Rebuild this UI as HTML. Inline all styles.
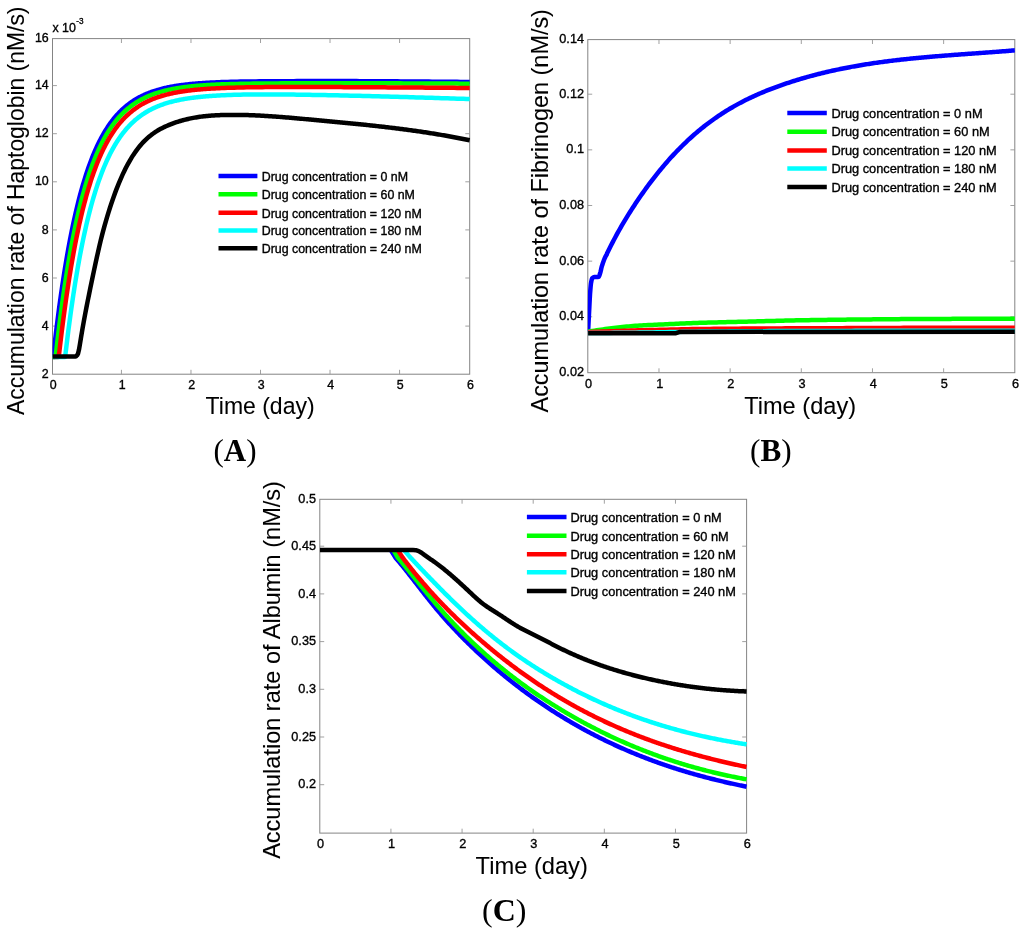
<!DOCTYPE html>
<html lang="en">
<head>
<meta charset="utf-8">
<title>Accumulation rate figure</title>
<style>html,body{margin:0;padding:0;background:#fff}svg{display:block;will-change:transform}</style>
</head>
<body>
<svg width="1024" height="934" viewBox="0 0 1024 934" role="img" aria-label="Accumulation rate plots">
<rect width="1024" height="934" fill="#fff"/>
<rect x="52.5" y="38.6" width="417.2" height="335.6" fill="#fff" stroke="#848484" stroke-width="1"/>
<path d="M121.43 374.2V369.8M121.43 38.6V43M190.97 374.2V369.8M190.97 38.6V43M260.5 374.2V369.8M260.5 38.6V43M330.03 374.2V369.8M330.03 38.6V43M399.57 374.2V369.8M399.57 38.6V43M52.5 326.1H56.9M469.7 326.1H465.3M52.5 278H56.9M469.7 278H465.3M52.5 229.9H56.9M469.7 229.9H465.3M52.5 181.8H56.9M469.7 181.8H465.3M52.5 133.7H56.9M469.7 133.7H465.3M52.5 85.6H56.9M469.7 85.6H465.3" stroke="#969696" stroke-width="0.9" fill="none"/>
<text x="53.2" y="389.1" font-family="'Liberation Sans', sans-serif" font-size="12.4" font-weight="normal" text-anchor="middle" fill="#000" stroke="#000" stroke-width="0.35">0</text>
<text x="122.13" y="389.1" font-family="'Liberation Sans', sans-serif" font-size="12.4" font-weight="normal" text-anchor="middle" fill="#000" stroke="#000" stroke-width="0.35">1</text>
<text x="191.67" y="389.1" font-family="'Liberation Sans', sans-serif" font-size="12.4" font-weight="normal" text-anchor="middle" fill="#000" stroke="#000" stroke-width="0.35">2</text>
<text x="261.2" y="389.1" font-family="'Liberation Sans', sans-serif" font-size="12.4" font-weight="normal" text-anchor="middle" fill="#000" stroke="#000" stroke-width="0.35">3</text>
<text x="330.73" y="389.1" font-family="'Liberation Sans', sans-serif" font-size="12.4" font-weight="normal" text-anchor="middle" fill="#000" stroke="#000" stroke-width="0.35">4</text>
<text x="400.27" y="389.1" font-family="'Liberation Sans', sans-serif" font-size="12.4" font-weight="normal" text-anchor="middle" fill="#000" stroke="#000" stroke-width="0.35">5</text>
<text x="470.4" y="389.1" font-family="'Liberation Sans', sans-serif" font-size="12.4" font-weight="normal" text-anchor="middle" fill="#000" stroke="#000" stroke-width="0.35">6</text>
<text x="48.7" y="377.8" font-family="'Liberation Sans', sans-serif" font-size="12.4" font-weight="normal" text-anchor="end" fill="#000" stroke="#000" stroke-width="0.35">2</text>
<text x="48.7" y="329.7" font-family="'Liberation Sans', sans-serif" font-size="12.4" font-weight="normal" text-anchor="end" fill="#000" stroke="#000" stroke-width="0.35">4</text>
<text x="48.7" y="281.6" font-family="'Liberation Sans', sans-serif" font-size="12.4" font-weight="normal" text-anchor="end" fill="#000" stroke="#000" stroke-width="0.35">6</text>
<text x="48.7" y="233.5" font-family="'Liberation Sans', sans-serif" font-size="12.4" font-weight="normal" text-anchor="end" fill="#000" stroke="#000" stroke-width="0.35">8</text>
<text x="48.7" y="185.4" font-family="'Liberation Sans', sans-serif" font-size="12.4" font-weight="normal" text-anchor="end" fill="#000" stroke="#000" stroke-width="0.35">10</text>
<text x="48.7" y="137.3" font-family="'Liberation Sans', sans-serif" font-size="12.4" font-weight="normal" text-anchor="end" fill="#000" stroke="#000" stroke-width="0.35">12</text>
<text x="48.7" y="89.2" font-family="'Liberation Sans', sans-serif" font-size="12.4" font-weight="normal" text-anchor="end" fill="#000" stroke="#000" stroke-width="0.35">14</text>
<text x="48.7" y="42.2" font-family="'Liberation Sans', sans-serif" font-size="12.4" font-weight="normal" text-anchor="end" fill="#000" stroke="#000" stroke-width="0.35">16</text>
<text x="52.4" y="31.9" font-family="'Liberation Sans', sans-serif" font-size="12.4" font-weight="normal" text-anchor="start" fill="#000" stroke="#000" stroke-width="0.35">x 10</text>
<text x="76.3" y="23.6" font-family="'Liberation Sans', sans-serif" font-size="8.2" font-weight="normal" text-anchor="start" fill="#000" stroke="#000" stroke-width="0.35">-3</text>
<clipPath id="ca"><rect x="52.5" y="35.6" width="417.7" height="341.6"/></clipPath>
<g clip-path="url(#ca)">
<polyline fill="none" stroke="#0000ff" stroke-width="4.5" stroke-linejoin="round" stroke-linecap="butt" points="52.5,356.88 53.34,355.59 54.18,348.12 55.02,340.86 55.85,333.8 56.69,326.93 57.53,320.25 58.37,313.74 59.21,307.42 60.05,301.26 60.89,295.28 61.72,289.45 62.56,283.79 63.4,278.27 64.24,272.91 65.08,267.7 65.92,262.62 66.76,257.69 67.59,252.88 68.43,248.21 69.27,243.67 70.11,239.25 70.95,234.95 71.79,230.76 72.63,226.69 73.46,222.73 74.3,218.88 75.14,215.13 75.98,211.49 76.82,207.94 77.66,204.49 78.5,201.13 79.33,197.87 80.17,194.69 81.01,191.6 81.85,188.6 82.69,185.67 83.53,182.83 84.37,180.06 85.21,177.37 86.04,174.75 86.88,172.2 87.72,169.72 88.56,167.31 89.4,164.97 90.24,162.69 91.08,160.47 91.91,158.31 92.75,156.21 93.59,154.16 94.43,152.18 95.27,150.24 96.11,148.36 96.95,146.53 97.78,144.75 98.62,143.02 99.46,141.33 100.3,139.69 101.14,138.1 101.98,136.55 102.82,135.04 103.65,133.57 104.49,132.14 105.33,130.75 106.17,129.4 107.01,128.09 107.85,126.81 108.69,125.56 109.52,124.35 110.36,123.17 111.2,122.03 112.04,120.91 112.88,119.83 113.72,118.77 114.56,117.75 115.39,116.75 116.23,115.78 117.07,114.83 117.91,113.92 118.75,113.02 119.59,112.15 120.43,111.31 121.26,110.48 122.1,109.68 122.94,108.9 123.78,108.15 124.62,107.41 125.46,106.69 126.3,105.99 127.13,105.32 127.97,104.66 128.81,104.01 129.65,103.39 130.49,102.78 131.33,102.19 132.17,101.61 133,101.05 133.84,100.51 134.68,99.98 135.52,99.47 136.36,98.96 137.2,98.48 138.04,98 138.88,97.54 139.71,97.09 140.55,96.66 141.39,96.23 142.23,95.82 143.07,95.42 143.91,95.03 144.75,94.64 145.58,94.27 146.42,93.91 147.26,93.56 148.1,93.22 148.94,92.89 149.78,92.57 150.62,92.26 151.45,91.95 152.29,91.65 153.13,91.37 153.97,91.08 154.81,90.81 155.65,90.55 156.49,90.29 157.32,90.03 158.16,89.79 159,89.55 159.84,89.32 160.68,89.09 161.52,88.88 162.36,88.66 163.19,88.46 164.03,88.25 164.87,88.06 165.71,87.87 166.55,87.68 167.39,87.5 168.23,87.32 169.06,87.15 169.9,86.99 170.74,86.82 171.58,86.67 172.42,86.51 173.26,86.36 174.1,86.22 174.93,86.08 175.77,85.94 176.61,85.81 177.45,85.68 178.29,85.55 179.13,85.43 179.97,85.31 180.8,85.19 181.64,85.08 182.48,84.97 183.32,84.86 184.16,84.76 185,84.66 185.84,84.56 186.67,84.46 187.51,84.37 188.35,84.28 189.19,84.19 190.03,84.1 190.87,84.02 191.71,83.94 192.55,83.86 193.38,83.78 194.22,83.71 195.06,83.64 195.9,83.56 196.74,83.5 197.58,83.43 198.42,83.36 199.25,83.3 200.09,83.24 200.93,83.18 201.77,83.12 202.61,83.06 203.45,83.01 204.29,82.95 205.12,82.9 205.96,82.85 206.8,82.8 207.64,82.75 208.48,82.71 209.32,82.66 210.16,82.62 210.99,82.57 211.83,82.53 212.67,82.49 213.51,82.45 214.35,82.41 215.19,82.38 216.03,82.34 216.86,82.3 217.7,82.27 218.54,82.23 219.38,82.2 221.47,82.12 224.61,82.02 227.75,81.92 230.89,81.83 234.03,81.75 237.18,81.68 240.32,81.62 243.46,81.56 246.6,81.51 249.75,81.46 252.89,81.42 256.03,81.38 259.17,81.35 262.31,81.32 265.46,81.29 268.6,81.26 271.74,81.24 274.88,81.22 278.03,81.2 281.17,81.18 284.31,81.17 287.45,81.16 290.59,81.14 293.74,81.13 296.88,81.12 300.02,81.11 303.16,81.11 306.31,81.1 309.45,81.09 312.59,81.09 315.73,81.08 318.87,81.08 322.02,81.07 325.16,81.07 328.3,81.06 331.44,81.06 334.59,81.06 337.73,81.07 340.87,81.07 344.01,81.08 347.15,81.09 350.3,81.1 353.44,81.11 356.58,81.12 359.72,81.13 362.87,81.15 366.01,81.16 369.15,81.18 372.29,81.2 375.43,81.21 378.58,81.23 381.72,81.25 384.86,81.27 388,81.29 391.14,81.31 394.29,81.33 397.43,81.35 400.57,81.38 403.71,81.4 406.86,81.42 410,81.45 413.14,81.47 416.28,81.5 419.42,81.52 422.57,81.55 425.71,81.58 428.85,81.6 431.99,81.63 435.14,81.66 438.28,81.69 441.42,81.72 444.56,81.74 447.7,81.77 450.85,81.8 453.99,81.83 457.13,81.87 460.27,81.9 463.42,81.93 466.56,81.96 469.7,81.99"/>
<polyline fill="none" stroke="#00ff00" stroke-width="4.5" stroke-linejoin="round" stroke-linecap="butt" points="52.5,356.88 53.34,356.88 54.18,356.88 55.02,356.88 55.85,354.55 56.69,347.18 57.53,340 58.37,333.02 59.21,326.23 60.05,319.62 60.89,313.2 61.72,306.94 62.56,300.86 63.4,294.94 64.24,289.19 65.08,283.59 65.92,278.14 66.76,272.84 67.59,267.69 68.43,262.67 69.27,257.79 70.11,253.05 70.95,248.43 71.79,243.94 72.63,239.57 73.46,235.32 74.3,231.18 75.14,227.16 75.98,223.25 76.82,219.44 77.66,215.73 78.5,212.13 79.33,208.63 80.17,205.22 81.01,201.9 81.85,198.67 82.69,195.53 83.53,192.48 84.37,189.51 85.21,186.62 86.04,183.81 86.88,181.07 87.72,178.41 88.56,175.82 89.4,173.31 90.24,170.86 91.08,168.47 91.91,166.16 92.75,163.9 93.59,161.71 94.43,159.57 95.27,157.5 96.11,155.48 96.95,153.51 97.78,151.6 98.62,149.74 99.46,147.93 100.3,146.17 101.14,144.46 101.98,142.79 102.82,141.17 103.65,139.6 104.49,138.06 105.33,136.57 106.17,135.12 107.01,133.71 107.85,132.34 108.69,131 109.52,129.7 110.36,128.44 111.2,127.21 112.04,126.01 112.88,124.85 113.72,123.72 114.56,122.61 115.39,121.54 116.23,120.5 117.07,119.49 117.91,118.5 118.75,117.54 119.59,116.61 120.43,115.7 121.26,114.81 122.1,113.95 122.94,113.12 123.78,112.3 124.62,111.51 125.46,110.74 126.3,109.99 127.13,109.27 127.97,108.56 128.81,107.87 129.65,107.2 130.49,106.54 131.33,105.91 132.17,105.29 133,104.69 133.84,104.11 134.68,103.54 135.52,102.99 136.36,102.45 137.2,101.92 138.04,101.42 138.88,100.92 139.71,100.44 140.55,99.97 141.39,99.51 142.23,99.07 143.07,98.64 143.91,98.22 144.75,97.81 145.58,97.41 146.42,97.03 147.26,96.65 148.1,96.28 148.94,95.93 149.78,95.58 150.62,95.25 151.45,94.92 152.29,94.6 153.13,94.29 153.97,93.99 154.81,93.69 155.65,93.41 156.49,93.13 157.32,92.86 158.16,92.6 159,92.34 159.84,92.09 160.68,91.85 161.52,91.62 162.36,91.39 163.19,91.17 164.03,90.95 164.87,90.74 165.71,90.53 166.55,90.33 167.39,90.14 168.23,89.95 169.06,89.77 169.9,89.59 170.74,89.41 171.58,89.25 172.42,89.08 173.26,88.92 174.1,88.77 174.93,88.61 175.77,88.47 176.61,88.32 177.45,88.18 178.29,88.05 179.13,87.92 179.97,87.79 180.8,87.66 181.64,87.54 182.48,87.42 183.32,87.31 184.16,87.2 185,87.09 185.84,86.98 186.67,86.88 187.51,86.78 188.35,86.68 189.19,86.59 190.03,86.49 190.87,86.4 191.71,86.32 192.55,86.23 193.38,86.15 194.22,86.07 195.06,85.99 195.9,85.92 196.74,85.84 197.58,85.77 198.42,85.7 199.25,85.63 200.09,85.57 200.93,85.5 201.77,85.44 202.61,85.38 203.45,85.32 204.29,85.26 205.12,85.2 205.96,85.15 206.8,85.1 207.64,85.04 208.48,84.99 209.32,84.95 210.16,84.9 210.99,84.85 211.83,84.81 212.67,84.76 213.51,84.72 214.35,84.68 215.19,84.64 216.03,84.6 216.86,84.56 217.7,84.52 218.54,84.49 219.38,84.45 221.47,84.37 224.61,84.25 227.75,84.15 230.89,84.06 234.03,83.97 237.18,83.9 240.32,83.83 243.46,83.76 246.6,83.71 249.75,83.66 252.89,83.61 256.03,83.57 259.17,83.54 262.31,83.5 265.46,83.47 268.6,83.44 271.74,83.42 274.88,83.4 278.03,83.38 281.17,83.36 284.31,83.34 287.45,83.33 290.59,83.32 293.74,83.3 296.88,83.29 300.02,83.28 303.16,83.28 306.31,83.27 309.45,83.26 312.59,83.25 315.73,83.25 318.87,83.24 322.02,83.24 325.16,83.23 328.3,83.23 331.44,83.23 334.59,83.23 337.73,83.23 340.87,83.23 344.01,83.23 347.15,83.23 350.3,83.24 353.44,83.24 356.58,83.25 359.72,83.25 362.87,83.26 366.01,83.27 369.15,83.27 372.29,83.28 375.43,83.29 378.58,83.3 381.72,83.31 384.86,83.32 388,83.33 391.14,83.34 394.29,83.35 397.43,83.36 400.57,83.37 403.71,83.38 406.86,83.39 410,83.4 413.14,83.42 416.28,83.43 419.42,83.44 422.57,83.46 425.71,83.47 428.85,83.48 431.99,83.5 435.14,83.51 438.28,83.52 441.42,83.54 444.56,83.55 447.7,83.57 450.85,83.58 453.99,83.6 457.13,83.61 460.27,83.63 463.42,83.64 466.56,83.66 469.7,83.68"/>
<polyline fill="none" stroke="#ff0000" stroke-width="4.5" stroke-linejoin="round" stroke-linecap="butt" points="52.5,356.88 53.34,356.88 54.18,356.88 55.02,356.88 55.85,356.88 56.69,356.88 57.53,356.88 58.37,356.88 59.21,352.91 60.05,345.68 60.89,338.64 61.72,331.8 62.56,325.14 63.4,318.66 64.24,312.35 65.08,306.22 65.92,300.26 66.76,294.46 67.59,288.81 68.43,283.32 69.27,277.98 70.11,272.78 70.95,267.72 71.79,262.81 72.63,258.02 73.46,253.37 74.3,248.84 75.14,244.44 75.98,240.15 76.82,235.98 77.66,231.93 78.5,227.98 79.33,224.14 80.17,220.41 81.01,216.78 81.85,213.24 82.69,209.81 83.53,206.46 84.37,203.21 85.21,200.05 86.04,196.97 86.88,193.97 87.72,191.06 88.56,188.23 89.4,185.47 90.24,182.79 91.08,180.18 91.91,177.64 92.75,175.17 93.59,172.77 94.43,170.43 95.27,168.16 96.11,165.95 96.95,163.79 97.78,161.7 98.62,159.67 99.46,157.69 100.3,155.76 101.14,153.88 101.98,152.06 102.82,150.29 103.65,148.56 104.49,146.88 105.33,145.25 106.17,143.66 107.01,142.11 107.85,140.61 108.69,139.15 109.52,137.72 110.36,136.34 111.2,134.99 112.04,133.68 112.88,132.41 113.72,131.17 114.56,129.96 115.39,128.79 116.23,127.65 117.07,126.54 117.91,125.46 118.75,124.41 119.59,123.39 120.43,122.39 121.26,121.42 122.1,120.48 122.94,119.57 123.78,118.68 124.62,117.81 125.46,116.97 126.3,116.15 127.13,115.35 127.97,114.57 128.81,113.82 129.65,113.08 130.49,112.37 131.33,111.67 132.17,111 133,110.34 133.84,109.7 134.68,109.08 135.52,108.47 136.36,107.88 137.2,107.31 138.04,106.75 138.88,106.21 139.71,105.68 140.55,105.17 141.39,104.67 142.23,104.18 143.07,103.71 143.91,103.25 144.75,102.81 145.58,102.37 146.42,101.95 147.26,101.54 148.1,101.14 148.94,100.75 149.78,100.37 150.62,100 151.45,99.64 152.29,99.29 153.13,98.95 153.97,98.62 154.81,98.3 155.65,97.99 156.49,97.68 157.32,97.39 158.16,97.1 159,96.82 159.84,96.55 160.68,96.28 161.52,96.02 162.36,95.77 163.19,95.53 164.03,95.29 164.87,95.06 165.71,94.84 166.55,94.62 167.39,94.41 168.23,94.2 169.06,94 169.9,93.8 170.74,93.61 171.58,93.43 172.42,93.25 173.26,93.07 174.1,92.9 174.93,92.74 175.77,92.57 176.61,92.42 177.45,92.27 178.29,92.12 179.13,91.97 179.97,91.83 180.8,91.69 181.64,91.56 182.48,91.43 183.32,91.31 184.16,91.18 185,91.07 185.84,90.95 186.67,90.84 187.51,90.73 188.35,90.62 189.19,90.52 190.03,90.42 190.87,90.32 191.71,90.22 192.55,90.13 193.38,90.04 194.22,89.95 195.06,89.86 195.9,89.78 196.74,89.7 197.58,89.62 198.42,89.55 199.25,89.47 200.09,89.4 200.93,89.33 201.77,89.26 202.61,89.19 203.45,89.13 204.29,89.06 205.12,89 205.96,88.94 206.8,88.88 207.64,88.83 208.48,88.77 209.32,88.72 210.16,88.67 210.99,88.62 211.83,88.57 212.67,88.52 213.51,88.47 214.35,88.43 215.19,88.38 216.03,88.34 216.86,88.3 217.7,88.26 218.54,88.22 219.38,88.18 221.47,88.09 224.61,87.96 227.75,87.85 230.89,87.75 234.03,87.65 237.18,87.57 240.32,87.49 243.46,87.43 246.6,87.37 249.75,87.31 252.89,87.26 256.03,87.22 259.17,87.17 262.31,87.14 265.46,87.11 268.6,87.08 271.74,87.06 274.88,87.05 278.03,87.03 281.17,87.02 284.31,87.01 287.45,87 290.59,87 293.74,87 296.88,87 300.02,87 303.16,87 306.31,87 309.45,87.01 312.59,87.01 315.73,87.02 318.87,87.03 322.02,87.04 325.16,87.05 328.3,87.06 331.44,87.07 334.59,87.09 337.73,87.1 340.87,87.11 344.01,87.13 347.15,87.14 350.3,87.16 353.44,87.17 356.58,87.19 359.72,87.21 362.87,87.22 366.01,87.24 369.15,87.26 372.29,87.28 375.43,87.3 378.58,87.32 381.72,87.34 384.86,87.36 388,87.38 391.14,87.4 394.29,87.42 397.43,87.44 400.57,87.46 403.71,87.49 406.86,87.51 410,87.53 413.14,87.55 416.28,87.58 419.42,87.6 422.57,87.62 425.71,87.65 428.85,87.67 431.99,87.7 435.14,87.72 438.28,87.74 441.42,87.77 444.56,87.8 447.7,87.82 450.85,87.85 453.99,87.87 457.13,87.9 460.27,87.92 463.42,87.95 466.56,87.98 469.7,88.01"/>
<polyline fill="none" stroke="#00ffff" stroke-width="4.5" stroke-linejoin="round" stroke-linecap="butt" points="52.5,356.88 53.34,356.88 54.18,356.88 55.02,356.88 55.85,356.88 56.69,356.88 57.53,356.88 58.37,356.88 59.21,356.88 60.05,356.88 60.89,356.88 61.72,356.88 62.56,356.88 63.4,356.88 64.24,356.88 65.08,356.88 65.92,350.37 66.76,343.4 67.59,336.61 68.43,330.01 69.27,323.59 70.11,317.34 70.95,311.26 71.79,305.35 72.63,299.6 73.46,294.01 74.3,288.56 75.14,283.27 75.98,278.12 76.82,273.11 77.66,268.23 78.5,263.49 79.33,258.88 80.17,254.39 81.01,250.02 81.85,245.77 82.69,241.64 83.53,237.62 84.37,233.71 85.21,229.91 86.04,226.21 86.88,222.61 87.72,219.11 88.56,215.7 89.4,212.38 90.24,209.16 91.08,206.02 91.91,202.97 92.75,200 93.59,197.12 94.43,194.31 95.27,191.57 96.11,188.92 96.95,186.33 97.78,183.81 98.62,181.37 99.46,178.99 100.3,176.67 101.14,174.42 101.98,172.22 102.82,170.09 103.65,168.02 104.49,166 105.33,164.04 106.17,162.13 107.01,160.27 107.85,158.46 108.69,156.7 109.52,154.99 110.36,153.33 111.2,151.71 112.04,150.13 112.88,148.6 113.72,147.11 114.56,145.66 115.39,144.25 116.23,142.88 117.07,141.54 117.91,140.25 118.75,138.98 119.59,137.75 120.43,136.56 121.26,135.4 122.1,134.26 122.94,133.16 123.78,132.09 124.62,131.05 125.46,130.04 126.3,129.05 127.13,128.09 127.97,127.16 128.81,126.25 129.65,125.37 130.49,124.51 131.33,123.68 132.17,122.86 133,122.07 133.84,121.3 134.68,120.55 135.52,119.83 136.36,119.12 137.2,118.43 138.04,117.76 138.88,117.11 139.71,116.47 140.55,115.86 141.39,115.26 142.23,114.67 143.07,114.1 143.91,113.55 144.75,113.01 145.58,112.49 146.42,111.98 147.26,111.49 148.1,111.01 148.94,110.54 149.78,110.08 150.62,109.64 151.45,109.21 152.29,108.79 153.13,108.38 153.97,107.98 154.81,107.6 155.65,107.22 156.49,106.86 157.32,106.5 158.16,106.15 159,105.82 159.84,105.49 160.68,105.17 161.52,104.86 162.36,104.56 163.19,104.27 164.03,103.98 164.87,103.71 165.71,103.44 166.55,103.17 167.39,102.92 168.23,102.67 169.06,102.43 169.9,102.19 170.74,101.96 171.58,101.74 172.42,101.52 173.26,101.31 174.1,101.11 174.93,100.91 175.77,100.72 176.61,100.53 177.45,100.34 178.29,100.17 179.13,99.99 179.97,99.82 180.8,99.66 181.64,99.5 182.48,99.34 183.32,99.19 184.16,99.04 185,98.9 185.84,98.76 186.67,98.63 187.51,98.49 188.35,98.37 189.19,98.24 190.03,98.12 190.87,98 191.71,97.89 192.55,97.78 193.38,97.67 194.22,97.56 195.06,97.46 195.9,97.36 196.74,97.26 197.58,97.17 198.42,97.07 199.25,96.98 200.09,96.9 200.93,96.81 201.77,96.73 202.61,96.65 203.45,96.57 204.29,96.5 205.12,96.42 205.96,96.35 206.8,96.28 207.64,96.21 208.48,96.15 209.32,96.08 210.16,96.02 210.99,95.96 211.83,95.9 212.67,95.84 213.51,95.78 214.35,95.73 215.19,95.68 216.03,95.63 216.86,95.58 217.7,95.53 218.54,95.48 219.38,95.43 221.47,95.32 224.61,95.17 227.75,95.03 230.89,94.91 234.03,94.8 237.18,94.71 240.32,94.64 243.46,94.57 246.6,94.52 249.75,94.48 252.89,94.45 256.03,94.43 259.17,94.42 262.31,94.41 265.46,94.41 268.6,94.41 271.74,94.42 274.88,94.43 278.03,94.45 281.17,94.48 284.31,94.5 287.45,94.53 290.59,94.57 293.74,94.6 296.88,94.64 300.02,94.69 303.16,94.73 306.31,94.78 309.45,94.83 312.59,94.88 315.73,94.94 318.87,94.99 322.02,95.05 325.16,95.11 328.3,95.17 331.44,95.23 334.59,95.3 337.73,95.36 340.87,95.43 344.01,95.5 347.15,95.57 350.3,95.64 353.44,95.71 356.58,95.79 359.72,95.86 362.87,95.94 366.01,96.02 369.15,96.09 372.29,96.17 375.43,96.25 378.58,96.33 381.72,96.42 384.86,96.5 388,96.58 391.14,96.67 394.29,96.76 397.43,96.84 400.57,96.93 403.71,97.02 406.86,97.11 410,97.2 413.14,97.29 416.28,97.38 419.42,97.48 422.57,97.57 425.71,97.66 428.85,97.76 431.99,97.86 435.14,97.95 438.28,98.05 441.42,98.15 444.56,98.25 447.7,98.35 450.85,98.45 453.99,98.55 457.13,98.65 460.27,98.76 463.42,98.86 466.56,98.96 469.7,99.07"/>
<polyline fill="none" stroke="#000000" stroke-width="4.5" stroke-linejoin="round" stroke-linecap="butt" points="52.5,356.5 53.44,356.5 54.39,356.5 55.33,356.5 56.28,356.5 57.22,356.5 58.17,356.5 59.11,356.5 60.06,356.5 61,356.5 61.95,356.5 62.89,356.5 63.84,356.5 64.78,356.5 65.73,356.5 66.67,356.5 67.62,356.5 68.56,356.5 69.51,356.5 70.45,356.5 71.4,356.5 72.34,356.5 73.29,356.5 74.23,356.5 75.18,356.5 76.12,356.32 77.07,355.31 78.01,353.58 78.96,349.82 79.9,344.44 81.2,336.35 82.51,328.67 83.81,321.33 85.11,314.29 86.42,307.49 87.72,300.89 89.03,294.43 90.33,288.07 91.63,281.8 92.94,275.58 94.24,269.4 95.54,263.3 96.85,257.31 98.15,251.46 99.46,245.79 100.76,240.33 102.06,235.13 103.37,230.16 104.67,225.4 105.97,220.83 107.28,216.41 108.58,212.14 109.88,208.01 111.19,204.02 112.49,200.17 113.8,196.45 115.1,192.86 116.4,189.4 117.71,186.07 119.01,182.86 120.31,179.77 121.62,176.8 122.92,173.94 124.23,171.2 125.53,168.56 126.83,166.04 128.14,163.61 129.44,161.29 130.74,159.06 132.05,156.94 133.35,154.9 134.65,152.96 135.96,151.1 137.26,149.33 138.57,147.64 139.87,146.03 141.17,144.49 142.48,143.03 143.78,141.64 145.08,140.32 146.39,139.07 147.69,137.88 148.99,136.75 150.3,135.67 151.6,134.66 152.91,133.69 154.21,132.77 155.51,131.9 156.82,131.07 158.12,130.29 159.42,129.54 160.73,128.83 162.03,128.15 163.34,127.5 164.64,126.88 165.94,126.29 167.25,125.71 168.55,125.16 169.85,124.63 171.16,124.11 172.46,123.61 173.76,123.13 175.07,122.67 176.37,122.22 177.68,121.8 178.98,121.39 180.28,120.99 181.59,120.61 182.89,120.25 184.19,119.9 185.5,119.57 186.8,119.25 188.11,118.95 189.41,118.66 190.71,118.39 192.02,118.13 193.32,117.88 194.62,117.64 195.93,117.42 197.23,117.21 198.53,117.01 199.84,116.82 201.14,116.64 202.45,116.48 203.75,116.32 205.05,116.18 206.36,116.04 207.66,115.92 208.96,115.8 210.27,115.69 211.57,115.59 212.88,115.5 214.18,115.42 215.48,115.34 216.79,115.27 218.09,115.21 219.39,115.16 220.7,115.11 222,115.06 223.3,115.03 224.61,114.99 225.91,114.97 227.22,114.94 228.52,114.92 229.82,114.91 231.13,114.9 232.43,114.89 233.73,114.89 235.04,114.89 236.34,114.9 237.65,114.91 238.95,114.92 240.25,114.94 241.56,114.96 242.86,114.99 244.16,115.01 245.47,115.05 246.77,115.08 248.07,115.12 249.38,115.16 250.68,115.21 251.99,115.25 253.29,115.3 254.59,115.36 255.9,115.42 257.2,115.48 258.5,115.54 259.81,115.6 261.11,115.67 262.42,115.74 263.72,115.82 265.02,115.89 266.33,115.97 267.63,116.05 268.93,116.13 270.24,116.22 271.54,116.31 272.84,116.4 274.15,116.49 275.45,116.58 276.76,116.68 278.06,116.77 279.36,116.87 280.67,116.97 281.97,117.07 283.27,117.18 284.58,117.28 285.88,117.39 287.18,117.5 288.49,117.61 289.79,117.72 291.1,117.83 292.4,117.94 293.7,118.06 295.01,118.17 296.31,118.29 297.61,118.4 298.92,118.52 300.22,118.64 301.53,118.76 302.83,118.88 304.13,119 305.44,119.12 306.74,119.24 308.04,119.36 309.35,119.48 310.65,119.6 311.95,119.72 313.26,119.84 314.56,119.96 315.87,120.08 317.17,120.2 318.47,120.33 319.78,120.45 321.08,120.57 322.38,120.69 323.69,120.81 324.99,120.93 326.3,121.05 327.6,121.17 328.9,121.3 330.21,121.42 331.51,121.54 332.81,121.66 334.12,121.79 335.42,121.91 336.72,122.03 338.03,122.15 339.33,122.28 340.64,122.4 341.94,122.53 343.24,122.65 344.55,122.78 345.85,122.9 347.15,123.03 348.46,123.16 349.76,123.28 351.07,123.41 352.37,123.54 353.67,123.67 354.98,123.8 356.28,123.93 357.58,124.06 358.89,124.19 360.19,124.32 361.49,124.46 362.8,124.59 364.1,124.73 365.41,124.86 366.71,125 368.01,125.13 369.32,125.27 370.62,125.41 371.92,125.55 373.23,125.69 374.53,125.83 375.84,125.98 377.14,126.12 378.44,126.26 379.75,126.41 381.05,126.56 382.35,126.71 383.66,126.85 384.96,127 386.26,127.16 387.57,127.31 388.87,127.46 390.18,127.62 391.48,127.77 392.78,127.93 394.09,128.09 395.39,128.25 396.69,128.41 398,128.57 399.3,128.74 400.61,128.9 401.91,129.07 403.21,129.24 404.52,129.41 405.82,129.58 407.12,129.76 408.43,129.93 409.73,130.11 411.03,130.28 412.34,130.46 413.64,130.65 414.95,130.83 416.25,131.01 417.55,131.2 418.86,131.39 420.16,131.58 421.46,131.77 422.77,131.96 424.07,132.16 425.37,132.35 426.68,132.55 427.98,132.75 429.29,132.96 430.59,133.16 431.89,133.37 433.2,133.58 434.5,133.79 435.8,134 437.11,134.22 438.41,134.43 439.72,134.65 441.02,134.87 442.32,135.1 443.63,135.32 444.93,135.55 446.23,135.78 447.54,136.01 448.84,136.25 450.14,136.48 451.45,136.72 452.75,136.96 454.06,137.21 455.36,137.45 456.66,137.7 457.97,137.95 459.27,138.21 460.57,138.46 461.88,138.72 463.18,138.98 464.49,139.24 465.79,139.51 467.09,139.78 468.4,140.05 469.7,140.32"/>
</g>
<line x1="218.5" y1="176" x2="257.4" y2="176" stroke="#0000ff" stroke-width="4.5"/>
<text x="261.7" y="180.9" font-family="'Liberation Sans', sans-serif" font-size="12.4" font-weight="normal" text-anchor="start" fill="#000" stroke="#000" stroke-width="0.35">Drug concentration = 0 nM</text>
<line x1="218.5" y1="194.3" x2="257.4" y2="194.3" stroke="#00ff00" stroke-width="4.5"/>
<text x="261.7" y="199.2" font-family="'Liberation Sans', sans-serif" font-size="12.4" font-weight="normal" text-anchor="start" fill="#000" stroke="#000" stroke-width="0.35">Drug concentration = 60 nM</text>
<line x1="218.5" y1="212.8" x2="257.4" y2="212.8" stroke="#ff0000" stroke-width="4.5"/>
<text x="261.7" y="217.7" font-family="'Liberation Sans', sans-serif" font-size="12.4" font-weight="normal" text-anchor="start" fill="#000" stroke="#000" stroke-width="0.35">Drug concentration = 120 nM</text>
<line x1="218.5" y1="230.4" x2="257.4" y2="230.4" stroke="#00ffff" stroke-width="4.5"/>
<text x="261.7" y="235.3" font-family="'Liberation Sans', sans-serif" font-size="12.4" font-weight="normal" text-anchor="start" fill="#000" stroke="#000" stroke-width="0.35">Drug concentration = 180 nM</text>
<line x1="218.5" y1="248.2" x2="257.4" y2="248.2" stroke="#000000" stroke-width="4.5"/>
<text x="261.7" y="253.1" font-family="'Liberation Sans', sans-serif" font-size="12.4" font-weight="normal" text-anchor="start" fill="#000" stroke="#000" stroke-width="0.35">Drug concentration = 240 nM</text>
<text transform="translate(24.2 210.8) rotate(-90) scale(1 1.08)" font-family="'Liberation Sans', sans-serif" font-size="22.9" text-anchor="middle" fill="#000" stroke="#000" stroke-width="0.06">Accumulation rate of Haptoglobin (nM/s)</text>
<text transform="translate(260.1 414) scale(1 1.02)" font-family="'Liberation Sans', sans-serif" font-size="23" text-anchor="middle" fill="#000" stroke="#000" stroke-width="0.06">Time (day)</text>
<rect x="587.8" y="39.6" width="427" height="333.1" fill="#fff" stroke="#848484" stroke-width="1"/>
<path d="M658.97 372.7V368.3M658.97 39.6V44M730.13 372.7V368.3M730.13 39.6V44M801.3 372.7V368.3M801.3 39.6V44M872.47 372.7V368.3M872.47 39.6V44M943.63 372.7V368.3M943.63 39.6V44M587.8 316.8H592.2M1014.8 316.8H1010.4M587.8 261.15H592.2M1014.8 261.15H1010.4M587.8 205.5H592.2M1014.8 205.5H1010.4M587.8 149.85H592.2M1014.8 149.85H1010.4M587.8 94.2H592.2M1014.8 94.2H1010.4" stroke="#969696" stroke-width="0.9" fill="none"/>
<text x="588.5" y="387.6" font-family="'Liberation Sans', sans-serif" font-size="12.7" font-weight="normal" text-anchor="middle" fill="#000" stroke="#000" stroke-width="0.35">0</text>
<text x="659.67" y="387.6" font-family="'Liberation Sans', sans-serif" font-size="12.7" font-weight="normal" text-anchor="middle" fill="#000" stroke="#000" stroke-width="0.35">1</text>
<text x="730.83" y="387.6" font-family="'Liberation Sans', sans-serif" font-size="12.7" font-weight="normal" text-anchor="middle" fill="#000" stroke="#000" stroke-width="0.35">2</text>
<text x="802" y="387.6" font-family="'Liberation Sans', sans-serif" font-size="12.7" font-weight="normal" text-anchor="middle" fill="#000" stroke="#000" stroke-width="0.35">3</text>
<text x="873.17" y="387.6" font-family="'Liberation Sans', sans-serif" font-size="12.7" font-weight="normal" text-anchor="middle" fill="#000" stroke="#000" stroke-width="0.35">4</text>
<text x="944.33" y="387.6" font-family="'Liberation Sans', sans-serif" font-size="12.7" font-weight="normal" text-anchor="middle" fill="#000" stroke="#000" stroke-width="0.35">5</text>
<text x="1015.5" y="387.6" font-family="'Liberation Sans', sans-serif" font-size="12.7" font-weight="normal" text-anchor="middle" fill="#000" stroke="#000" stroke-width="0.35">6</text>
<text x="584" y="376.05" font-family="'Liberation Sans', sans-serif" font-size="12.7" font-weight="normal" text-anchor="end" fill="#000" stroke="#000" stroke-width="0.35">0.02</text>
<text x="584" y="320.4" font-family="'Liberation Sans', sans-serif" font-size="12.7" font-weight="normal" text-anchor="end" fill="#000" stroke="#000" stroke-width="0.35">0.04</text>
<text x="584" y="264.75" font-family="'Liberation Sans', sans-serif" font-size="12.7" font-weight="normal" text-anchor="end" fill="#000" stroke="#000" stroke-width="0.35">0.06</text>
<text x="584" y="209.1" font-family="'Liberation Sans', sans-serif" font-size="12.7" font-weight="normal" text-anchor="end" fill="#000" stroke="#000" stroke-width="0.35">0.08</text>
<text x="584" y="153.45" font-family="'Liberation Sans', sans-serif" font-size="12.7" font-weight="normal" text-anchor="end" fill="#000" stroke="#000" stroke-width="0.35">0.1</text>
<text x="584" y="97.8" font-family="'Liberation Sans', sans-serif" font-size="12.7" font-weight="normal" text-anchor="end" fill="#000" stroke="#000" stroke-width="0.35">0.12</text>
<text x="584" y="43.2" font-family="'Liberation Sans', sans-serif" font-size="12.7" font-weight="normal" text-anchor="end" fill="#000" stroke="#000" stroke-width="0.35">0.14</text>
<clipPath id="cb"><rect x="587.8" y="36.6" width="427.5" height="339.1"/></clipPath>
<g clip-path="url(#cb)">
<polyline fill="none" stroke="#0000ff" stroke-width="4.5" stroke-linejoin="round" stroke-linecap="butt" points="588.1,331.5 588.42,325.14 588.74,318.87 589.06,312.67 589.38,306.39 589.7,299.86 590.02,294.2 590.34,289.97 590.66,286.26 590.98,283.35 591.3,281.5 591.62,280.1 591.94,278.97 592.26,278.19 592.58,277.84 592.91,277.65 593.23,277.47 593.55,277.32 593.87,277.19 594.19,277.09 594.51,277.01 594.83,276.95 595.15,276.91 595.47,276.9 595.79,276.9 596.11,276.9 596.43,276.9 596.75,276.9 597.07,276.9 597.39,276.9 597.71,276.9 598.03,276.9 598.35,276.9 598.67,276.83 598.99,276.41 599.31,275.67 599.63,274.75 599.95,273.75 600.27,272.78 600.59,271.6 600.91,270.21 601.23,268.74 601.55,267.35 601.87,266.18 602.19,265.19 602.52,264.22 602.84,263.27 603.16,262.34 603.48,261.43 603.8,260.55 604.12,259.71 604.44,258.9 604.76,258.14 605.08,257.42 605.4,256.75 605.72,256.14 606.04,255.58 606.36,255.09 606.68,254.66 607,253.54 608.36,250.74 609.73,247.99 611.09,245.29 612.46,242.63 613.82,240.02 615.18,237.46 616.55,234.93 617.91,232.45 619.27,230.01 620.64,227.61 622,225.24 623.37,222.91 624.73,220.62 626.09,218.35 627.46,216.12 628.82,213.93 630.19,211.76 631.55,209.62 632.91,207.5 634.28,205.41 635.64,203.35 637.01,201.31 638.37,199.29 639.73,197.29 641.1,195.32 642.46,193.37 643.82,191.44 645.19,189.54 646.55,187.65 647.92,185.79 649.28,183.95 650.64,182.13 652.01,180.33 653.37,178.56 654.74,176.8 656.1,175.07 657.46,173.36 658.83,171.66 660.19,169.99 661.56,168.34 662.92,166.71 664.28,165.1 665.65,163.51 667.01,161.94 668.37,160.39 669.74,158.86 671.1,157.35 672.47,155.86 673.83,154.39 675.19,152.94 676.56,151.51 677.92,150.1 679.29,148.7 680.65,147.33 682.01,145.97 683.38,144.63 684.74,143.31 686.11,142.01 687.47,140.72 688.83,139.45 690.2,138.21 691.56,136.97 692.92,135.76 694.29,134.56 695.65,133.38 697.02,132.21 698.38,131.07 699.74,129.93 701.11,128.82 702.47,127.72 703.84,126.63 705.2,125.57 706.56,124.51 707.93,123.47 709.29,122.45 710.65,121.44 712.02,120.45 713.38,119.47 714.75,118.51 716.11,117.56 717.47,116.62 718.84,115.7 720.2,114.79 721.57,113.89 722.93,113.01 724.29,112.14 725.66,111.28 727.02,110.44 728.39,109.61 729.75,108.79 731.11,107.98 732.48,107.19 733.84,106.41 735.2,105.63 736.57,104.88 737.93,104.13 739.3,103.39 740.66,102.66 742.02,101.95 743.39,101.24 744.75,100.55 746.12,99.86 747.48,99.19 748.84,98.53 750.21,97.87 751.57,97.23 752.94,96.59 754.3,95.96 755.66,95.35 757.03,94.74 758.39,94.14 759.75,93.55 761.12,92.96 762.48,92.39 763.85,91.82 765.21,91.26 766.57,90.71 767.94,90.17 769.3,89.63 770.67,89.1 772.03,88.58 773.39,88.06 774.76,87.55 776.12,87.05 777.48,86.55 778.85,86.06 780.21,85.57 781.58,85.09 782.94,84.62 784.3,84.15 785.67,83.68 787.03,83.23 788.4,82.77 789.76,82.32 791.12,81.88 792.49,81.44 793.85,81.01 795.22,80.58 796.58,80.16 797.94,79.74 799.31,79.33 800.67,78.92 802.03,78.52 803.4,78.12 804.76,77.73 806.13,77.34 807.49,76.95 808.85,76.58 810.22,76.2 811.58,75.83 812.95,75.46 814.31,75.1 815.67,74.75 817.04,74.39 818.4,74.05 819.77,73.7 821.13,73.36 822.49,73.03 823.86,72.7 825.22,72.37 826.58,72.05 827.95,71.73 829.31,71.42 830.68,71.11 832.04,70.8 833.4,70.5 834.77,70.2 836.13,69.91 837.5,69.62 838.86,69.33 840.22,69.05 841.59,68.77 842.95,68.49 844.32,68.22 845.68,67.95 847.04,67.69 848.41,67.43 849.77,67.17 851.13,66.91 852.5,66.66 853.86,66.42 855.23,66.17 856.59,65.93 857.95,65.69 859.32,65.46 860.68,65.23 862.05,65 863.41,64.78 864.77,64.56 866.14,64.34 867.5,64.12 868.86,63.91 870.23,63.7 871.59,63.49 872.96,63.29 874.32,63.09 875.68,62.89 877.05,62.7 878.41,62.5 879.78,62.31 881.14,62.13 882.5,61.94 883.87,61.76 885.23,61.58 886.6,61.4 887.96,61.23 889.32,61.06 890.69,60.89 892.05,60.72 893.41,60.55 894.78,60.39 896.14,60.23 897.51,60.07 898.87,59.91 900.23,59.76 901.6,59.61 902.96,59.46 904.33,59.31 905.69,59.16 907.05,59.02 908.42,58.87 909.78,58.73 911.15,58.59 912.51,58.46 913.87,58.32 915.24,58.19 916.6,58.05 917.96,57.92 919.33,57.79 920.69,57.67 922.06,57.54 923.42,57.42 924.78,57.29 926.15,57.17 927.51,57.05 928.88,56.93 930.24,56.81 931.6,56.7 932.97,56.58 934.33,56.47 935.69,56.35 937.06,56.24 938.42,56.13 939.79,56.02 941.15,55.91 942.51,55.8 943.88,55.69 945.24,55.59 946.61,55.48 947.97,55.38 949.33,55.27 950.7,55.17 952.06,55.06 953.43,54.96 954.79,54.86 956.15,54.76 957.52,54.66 958.88,54.56 960.24,54.46 961.61,54.36 962.97,54.26 964.34,54.16 965.7,54.06 967.06,53.96 968.43,53.86 969.79,53.77 971.16,53.67 972.52,53.57 973.88,53.47 975.25,53.37 976.61,53.27 977.98,53.18 979.34,53.08 980.7,52.98 982.07,52.88 983.43,52.78 984.79,52.68 986.16,52.58 987.52,52.48 988.89,52.38 990.25,52.28 991.61,52.18 992.98,52.08 994.34,51.98 995.71,51.88 997.07,51.77 998.43,51.67 999.8,51.56 1001.16,51.46 1002.53,51.35 1003.89,51.25 1005.25,51.14 1006.62,51.03 1007.98,50.92 1009.34,50.81 1010.71,50.7 1012.07,50.59 1013.44,50.47 1014.8,50.36"/>
<polyline fill="none" stroke="#00ff00" stroke-width="4.5" stroke-linejoin="round" stroke-linecap="butt" points="588.1,331.6 590.24,331.26 592.39,330.93 594.53,330.6 596.68,330.28 598.82,329.97 600.97,329.66 603.11,329.36 605.25,329.05 607.4,328.76 609.54,328.47 611.69,328.19 613.83,327.93 615.97,327.69 618.12,327.46 620.26,327.23 622.41,327 624.55,326.79 626.7,326.58 628.84,326.38 630.98,326.2 633.13,326.02 635.27,325.86 637.42,325.72 639.56,325.58 641.71,325.45 643.85,325.33 645.99,325.21 648.14,325.1 650.28,324.99 652.43,324.89 654.57,324.79 656.72,324.69 658.86,324.59 661,324.49 663.15,324.39 665.29,324.29 667.44,324.18 669.58,324.08 671.72,323.98 673.87,323.88 676.01,323.78 678.16,323.68 680.3,323.58 682.45,323.49 684.59,323.39 686.73,323.31 688.88,323.22 691.02,323.14 693.17,323.07 695.31,323 697.46,322.93 699.6,322.86 701.74,322.8 703.89,322.73 706.03,322.67 708.18,322.61 710.32,322.55 712.46,322.5 714.61,322.44 716.75,322.38 718.9,322.33 721.04,322.28 723.19,322.22 725.33,322.17 727.47,322.12 729.62,322.06 731.76,322.01 733.91,321.96 736.05,321.91 738.2,321.86 740.34,321.8 742.48,321.75 744.63,321.7 746.77,321.64 748.92,321.59 751.06,321.53 753.21,321.48 755.35,321.42 757.49,321.36 759.64,321.3 761.78,321.24 763.93,321.18 766.07,321.12 768.21,321.06 770.36,321 772.5,320.95 774.65,320.89 776.79,320.83 778.94,320.77 781.08,320.72 783.22,320.66 785.37,320.61 787.51,320.55 789.66,320.5 791.8,320.45 793.95,320.41 796.09,320.36 798.23,320.32 800.38,320.27 802.52,320.24 804.67,320.2 806.81,320.16 808.95,320.13 811.1,320.1 813.24,320.06 815.39,320.03 817.53,320 819.68,319.97 821.82,319.94 823.96,319.91 826.11,319.88 828.25,319.85 830.4,319.82 832.54,319.8 834.69,319.77 836.83,319.74 838.97,319.72 841.12,319.69 843.26,319.67 845.41,319.65 847.55,319.62 849.69,319.6 851.84,319.58 853.98,319.55 856.13,319.53 858.27,319.51 860.42,319.49 862.56,319.47 864.7,319.45 866.85,319.43 868.99,319.41 871.14,319.39 873.28,319.37 875.43,319.35 877.57,319.33 879.71,319.31 881.86,319.29 884,319.27 886.15,319.25 888.29,319.23 890.44,319.21 892.58,319.19 894.72,319.18 896.87,319.16 899.01,319.14 901.16,319.12 903.3,319.1 905.44,319.09 907.59,319.07 909.73,319.05 911.88,319.04 914.02,319.02 916.17,319.01 918.31,319 920.45,318.98 922.6,318.97 924.74,318.96 926.89,318.95 929.03,318.94 931.18,318.93 933.32,318.92 935.46,318.91 937.61,318.91 939.75,318.9 941.9,318.9 944.04,318.89 946.18,318.89 948.33,318.88 950.47,318.88 952.62,318.87 954.76,318.87 956.91,318.86 959.05,318.86 961.19,318.86 963.34,318.85 965.48,318.85 967.63,318.84 969.77,318.84 971.92,318.84 974.06,318.83 976.2,318.83 978.35,318.83 980.49,318.82 982.64,318.82 984.78,318.82 986.93,318.82 989.07,318.81 991.21,318.81 993.36,318.81 995.5,318.81 997.65,318.81 999.79,318.81 1001.93,318.8 1004.08,318.8 1006.22,318.8 1008.37,318.8 1010.51,318.8 1012.66,318.8 1014.8,318.8"/>
<polyline fill="none" stroke="#ff0000" stroke-width="4.5" stroke-linejoin="round" stroke-linecap="butt" points="588.1,332.2 591.69,332.03 595.27,331.87 598.86,331.72 602.44,331.56 606.03,331.42 609.61,331.27 613.2,331.14 616.79,331.01 620.37,330.89 623.96,330.77 627.54,330.66 631.13,330.55 634.71,330.45 638.3,330.35 641.89,330.25 645.47,330.16 649.06,330.06 652.64,329.97 656.23,329.89 659.81,329.8 663.4,329.72 666.99,329.64 670.57,329.55 674.16,329.47 677.74,329.39 681.33,329.32 684.91,329.24 688.5,329.18 692.09,329.11 695.67,329.06 699.26,329.01 702.84,328.97 706.43,328.93 710.01,328.89 713.6,328.85 717.19,328.82 720.77,328.78 724.36,328.75 727.94,328.72 731.53,328.69 735.11,328.66 738.7,328.64 742.29,328.61 745.87,328.59 749.46,328.56 753.04,328.54 756.63,328.52 760.21,328.5 763.8,328.48 767.39,328.46 770.97,328.44 774.56,328.42 778.14,328.4 781.73,328.38 785.31,328.37 788.9,328.35 792.49,328.33 796.07,328.32 799.66,328.3 803.24,328.29 806.83,328.27 810.41,328.26 814,328.24 817.59,328.23 821.17,328.21 824.76,328.2 828.34,328.19 831.93,328.17 835.51,328.16 839.1,328.14 842.69,328.13 846.27,328.12 849.86,328.1 853.44,328.09 857.03,328.07 860.61,328.06 864.2,328.04 867.79,328.02 871.37,328.01 874.96,327.99 878.54,327.98 882.13,327.96 885.71,327.95 889.3,327.93 892.89,327.92 896.47,327.9 900.06,327.89 903.64,327.87 907.23,327.86 910.81,327.85 914.4,327.84 917.99,327.83 921.57,327.82 925.16,327.81 928.74,327.8 932.33,327.8 935.91,327.79 939.5,327.78 943.09,327.78 946.67,327.77 950.26,327.76 953.84,327.76 957.43,327.75 961.01,327.75 964.6,327.74 968.19,327.74 971.77,327.73 975.36,327.73 978.94,327.72 982.53,327.72 986.11,327.72 989.7,327.71 993.29,327.71 996.87,327.71 1000.46,327.7 1004.04,327.7 1007.63,327.7 1011.21,327.7 1014.8,327.7"/>
<polyline fill="none" stroke="#00ffff" stroke-width="4.5" stroke-linejoin="round" stroke-linecap="butt" points="588.1,333 592.41,332.98 596.72,332.96 601.03,332.94 605.34,332.91 609.65,332.88 613.96,332.85 618.27,332.81 622.58,332.77 626.89,332.73 631.2,332.69 635.51,332.65 639.82,332.6 644.13,332.55 648.44,332.49 652.75,332.42 657.06,332.34 661.37,332.26 665.68,332.18 669.99,332.09 674.3,332 678.61,331.92 682.92,331.84 687.23,331.77 691.54,331.7 695.85,331.64 700.16,331.6 704.47,331.56 708.78,331.52 713.09,331.49 717.4,331.45 721.71,331.42 726.02,331.38 730.33,331.35 734.64,331.32 738.95,331.29 743.26,331.26 747.57,331.24 751.88,331.21 756.19,331.19 760.5,331.16 764.81,331.14 769.12,331.12 773.43,331.1 777.74,331.08 782.05,331.06 786.36,331.05 790.67,331.03 794.98,331.02 799.29,331 803.61,330.99 807.92,330.98 812.23,330.97 816.54,330.95 820.85,330.94 825.16,330.93 829.47,330.92 833.78,330.91 838.09,330.9 842.4,330.89 846.71,330.88 851.02,330.88 855.33,330.87 859.64,330.86 863.95,330.85 868.26,330.85 872.57,330.84 876.88,330.83 881.19,330.83 885.5,330.82 889.81,330.81 894.12,330.81 898.43,330.8 902.74,330.8 907.05,330.79 911.36,330.79 915.67,330.78 919.98,330.78 924.29,330.77 928.6,330.77 932.91,330.76 937.22,330.76 941.53,330.75 945.84,330.75 950.15,330.74 954.46,330.74 958.77,330.73 963.08,330.73 967.39,330.73 971.7,330.72 976.01,330.72 980.32,330.72 984.63,330.71 988.94,330.71 993.25,330.71 997.56,330.71 1001.87,330.7 1006.18,330.7 1010.49,330.7 1014.8,330.7"/>
<polyline fill="none" stroke="#000000" stroke-width="4.5" stroke-linejoin="round" stroke-linecap="butt" points="588.1,333.2 676,333.2 680,331.9 1014.8,331.8"/>
</g>
<line x1="787.3" y1="113.1" x2="826.8" y2="113.1" stroke="#0000ff" stroke-width="4.5"/>
<text x="831.4" y="117.6" font-family="'Liberation Sans', sans-serif" font-size="12.8" font-weight="normal" text-anchor="start" fill="#000" stroke="#000" stroke-width="0.35">Drug concentration = 0 nM</text>
<line x1="787.3" y1="131.8" x2="826.8" y2="131.8" stroke="#00ff00" stroke-width="4.5"/>
<text x="831.4" y="136.3" font-family="'Liberation Sans', sans-serif" font-size="12.8" font-weight="normal" text-anchor="start" fill="#000" stroke="#000" stroke-width="0.35">Drug concentration = 60 nM</text>
<line x1="787.3" y1="150.5" x2="826.8" y2="150.5" stroke="#ff0000" stroke-width="4.5"/>
<text x="831.4" y="155" font-family="'Liberation Sans', sans-serif" font-size="12.8" font-weight="normal" text-anchor="start" fill="#000" stroke="#000" stroke-width="0.35">Drug concentration = 120 nM</text>
<line x1="787.3" y1="168.5" x2="826.8" y2="168.5" stroke="#00ffff" stroke-width="4.5"/>
<text x="831.4" y="173" font-family="'Liberation Sans', sans-serif" font-size="12.8" font-weight="normal" text-anchor="start" fill="#000" stroke="#000" stroke-width="0.35">Drug concentration = 180 nM</text>
<line x1="787.3" y1="187.1" x2="826.8" y2="187.1" stroke="#000000" stroke-width="4.5"/>
<text x="831.4" y="191.6" font-family="'Liberation Sans', sans-serif" font-size="12.8" font-weight="normal" text-anchor="start" fill="#000" stroke="#000" stroke-width="0.35">Drug concentration = 240 nM</text>
<text transform="translate(548.1 210.8) rotate(-90) scale(1 1.03)" font-family="'Liberation Sans', sans-serif" font-size="23.43" text-anchor="middle" fill="#000" stroke="#000" stroke-width="0.06">Accumulation rate of Fibrinogen (nM/s)</text>
<text transform="translate(800.1 414.2) scale(1 1.02)" font-family="'Liberation Sans', sans-serif" font-size="23.6" text-anchor="middle" fill="#000" stroke="#000" stroke-width="0.06">Time (day)</text>
<rect x="319.8" y="499.3" width="426.8" height="333.8" fill="#fff" stroke="#848484" stroke-width="1"/>
<path d="M390.93 833.1V828.7M390.93 499.3V503.7M462.07 833.1V828.7M462.07 499.3V503.7M533.2 833.1V828.7M533.2 499.3V503.7M604.33 833.1V828.7M604.33 499.3V503.7M675.47 833.1V828.7M675.47 499.3V503.7M319.8 784.7H324.2M746.6 784.7H742.2M319.8 737H324.2M746.6 737H742.2M319.8 689.3H324.2M746.6 689.3H742.2M319.8 641.6H324.2M746.6 641.6H742.2M319.8 593.9H324.2M746.6 593.9H742.2M319.8 546.2H324.2M746.6 546.2H742.2" stroke="#969696" stroke-width="0.9" fill="none"/>
<text x="320.5" y="848" font-family="'Liberation Sans', sans-serif" font-size="12.7" font-weight="normal" text-anchor="middle" fill="#000" stroke="#000" stroke-width="0.35">0</text>
<text x="391.63" y="848" font-family="'Liberation Sans', sans-serif" font-size="12.7" font-weight="normal" text-anchor="middle" fill="#000" stroke="#000" stroke-width="0.35">1</text>
<text x="462.77" y="848" font-family="'Liberation Sans', sans-serif" font-size="12.7" font-weight="normal" text-anchor="middle" fill="#000" stroke="#000" stroke-width="0.35">2</text>
<text x="533.9" y="848" font-family="'Liberation Sans', sans-serif" font-size="12.7" font-weight="normal" text-anchor="middle" fill="#000" stroke="#000" stroke-width="0.35">3</text>
<text x="605.03" y="848" font-family="'Liberation Sans', sans-serif" font-size="12.7" font-weight="normal" text-anchor="middle" fill="#000" stroke="#000" stroke-width="0.35">4</text>
<text x="676.17" y="848" font-family="'Liberation Sans', sans-serif" font-size="12.7" font-weight="normal" text-anchor="middle" fill="#000" stroke="#000" stroke-width="0.35">5</text>
<text x="747.3" y="848" font-family="'Liberation Sans', sans-serif" font-size="12.7" font-weight="normal" text-anchor="middle" fill="#000" stroke="#000" stroke-width="0.35">6</text>
<text x="316" y="788.3" font-family="'Liberation Sans', sans-serif" font-size="12.7" font-weight="normal" text-anchor="end" fill="#000" stroke="#000" stroke-width="0.35">0.2</text>
<text x="316" y="740.6" font-family="'Liberation Sans', sans-serif" font-size="12.7" font-weight="normal" text-anchor="end" fill="#000" stroke="#000" stroke-width="0.35">0.25</text>
<text x="316" y="692.9" font-family="'Liberation Sans', sans-serif" font-size="12.7" font-weight="normal" text-anchor="end" fill="#000" stroke="#000" stroke-width="0.35">0.3</text>
<text x="316" y="645.2" font-family="'Liberation Sans', sans-serif" font-size="12.7" font-weight="normal" text-anchor="end" fill="#000" stroke="#000" stroke-width="0.35">0.35</text>
<text x="316" y="597.5" font-family="'Liberation Sans', sans-serif" font-size="12.7" font-weight="normal" text-anchor="end" fill="#000" stroke="#000" stroke-width="0.35">0.4</text>
<text x="316" y="549.8" font-family="'Liberation Sans', sans-serif" font-size="12.7" font-weight="normal" text-anchor="end" fill="#000" stroke="#000" stroke-width="0.35">0.45</text>
<text x="316" y="502.9" font-family="'Liberation Sans', sans-serif" font-size="12.7" font-weight="normal" text-anchor="end" fill="#000" stroke="#000" stroke-width="0.35">0.5</text>
<clipPath id="cc"><rect x="319.8" y="496.3" width="427.3" height="339.8"/></clipPath>
<g clip-path="url(#cc)">
<polyline fill="none" stroke="#0000ff" stroke-width="4.5" stroke-linejoin="round" stroke-linecap="butt" points="390.8,550.1 395.3,557.42 396.4,558.71 397.5,560.01 398.6,561.32 399.71,562.65 400.81,563.99 401.91,565.33 403.01,566.69 404.11,568.05 405.21,569.43 406.31,570.81 407.41,572.2 408.52,573.59 409.62,574.99 410.72,576.4 411.82,577.8 412.92,579.22 414.02,580.63 415.12,582.05 416.22,583.47 417.33,584.89 418.43,586.31 419.53,587.72 420.63,589.14 421.73,590.56 422.83,591.97 423.93,593.38 425.03,594.78 426.14,596.18 427.24,597.58 428.34,598.96 429.44,600.34 430.54,601.72 431.64,603.08 432.74,604.44 433.84,605.79 434.95,607.12 436.05,608.45 437.15,609.77 438.25,611.07 439.35,612.37 440.45,613.66 441.55,614.94 442.65,616.21 443.76,617.47 444.86,618.72 445.96,619.96 447.06,621.19 448.16,622.41 449.26,623.63 450.36,624.84 451.46,626.03 452.57,627.23 453.67,628.41 454.77,629.58 455.87,630.75 456.97,631.91 458.07,633.06 459.17,634.2 460.27,635.34 461.38,636.46 462.48,637.59 463.58,638.7 464.68,639.81 465.78,640.91 466.88,642 467.98,643.09 469.08,644.17 470.19,645.25 471.29,646.32 472.39,647.38 473.49,648.44 474.59,649.49 475.69,650.53 476.79,651.57 477.89,652.61 479,653.63 480.1,654.66 481.2,655.67 482.3,656.68 483.4,657.69 484.5,658.69 485.6,659.68 486.7,660.67 487.81,661.66 488.91,662.63 490.01,663.61 491.11,664.57 492.21,665.54 493.31,666.49 494.41,667.44 495.51,668.39 496.62,669.33 497.72,670.27 498.82,671.2 499.92,672.12 501.02,673.04 502.12,673.96 503.22,674.87 504.32,675.77 505.43,676.67 506.53,677.56 507.63,678.45 508.73,679.34 509.83,680.22 510.93,681.09 512.03,681.96 513.13,682.83 514.24,683.69 515.34,684.55 516.44,685.4 517.54,686.24 518.64,687.08 519.74,687.92 520.84,688.75 521.94,689.58 523.05,690.4 524.15,691.22 525.25,692.04 526.35,692.85 527.45,693.65 528.55,694.45 529.65,695.25 530.75,696.04 531.86,696.83 532.96,697.61 534.06,698.39 535.16,699.16 536.26,699.93 537.36,700.7 538.46,701.46 539.56,702.22 540.67,702.97 541.77,703.72 542.87,704.47 543.97,705.21 545.07,705.95 546.17,706.68 547.27,707.41 548.37,708.13 549.48,708.86 550.58,709.57 551.68,710.29 552.78,711 553.88,711.7 554.98,712.4 556.08,713.1 557.18,713.79 558.29,714.48 559.39,715.17 560.49,715.85 561.59,716.53 562.69,717.21 563.79,717.88 564.89,718.54 565.99,719.21 567.1,719.87 568.2,720.52 569.3,721.17 570.4,721.82 571.5,722.47 572.6,723.11 573.7,723.74 574.8,724.38 575.91,725.01 577.01,725.63 578.11,726.26 579.21,726.88 580.31,727.49 581.41,728.1 582.51,728.71 583.61,729.31 584.72,729.92 585.82,730.51 586.92,731.11 588.02,731.7 589.12,732.28 590.22,732.87 591.32,733.45 592.42,734.02 593.53,734.6 594.63,735.17 595.73,735.73 596.83,736.3 597.93,736.86 599.03,737.41 600.13,737.96 601.23,738.51 602.34,739.06 603.44,739.6 604.54,740.14 605.64,740.68 606.74,741.21 607.84,741.74 608.94,742.26 610.04,742.79 611.15,743.31 612.25,743.82 613.35,744.34 614.45,744.85 615.55,745.35 616.65,745.86 617.75,746.36 618.85,746.86 619.96,747.35 621.06,747.84 622.16,748.33 623.26,748.81 624.36,749.29 625.46,749.77 626.56,750.25 627.66,750.72 628.77,751.19 629.87,751.66 630.97,752.12 632.07,752.58 633.17,753.04 634.27,753.49 635.37,753.95 636.47,754.39 637.58,754.84 638.68,755.28 639.78,755.72 640.88,756.16 641.98,756.59 643.08,757.03 644.18,757.45 645.28,757.88 646.39,758.3 647.49,758.72 648.59,759.14 649.69,759.55 650.79,759.97 651.89,760.38 652.99,760.78 654.09,761.19 655.2,761.59 656.3,761.98 657.4,762.38 658.5,762.77 659.6,763.16 660.7,763.55 661.8,763.93 662.9,764.32 664.01,764.7 665.11,765.07 666.21,765.45 667.31,765.82 668.41,766.19 669.51,766.56 670.61,766.92 671.71,767.28 672.82,767.64 673.92,768 675.02,768.35 676.12,768.7 677.22,769.05 678.32,769.4 679.42,769.74 680.52,770.08 681.63,770.42 682.73,770.76 683.83,771.1 684.93,771.43 686.03,771.76 687.13,772.09 688.23,772.41 689.33,772.74 690.44,773.06 691.54,773.37 692.64,773.69 693.74,774.01 694.84,774.32 695.94,774.63 697.04,774.93 698.14,775.24 699.25,775.54 700.35,775.84 701.45,776.14 702.55,776.44 703.65,776.73 704.75,777.02 705.85,777.31 706.95,777.6 708.06,777.89 709.16,778.17 710.26,778.45 711.36,778.73 712.46,779.01 713.56,779.29 714.66,779.56 715.76,779.83 716.87,780.1 717.97,780.37 719.07,780.64 720.17,780.9 721.27,781.16 722.37,781.42 723.47,781.68 724.57,781.94 725.68,782.19 726.78,782.44 727.88,782.69 728.98,782.94 730.08,783.19 731.18,783.43 732.28,783.68 733.38,783.92 734.49,784.16 735.59,784.4 736.69,784.63 737.79,784.87 738.89,785.1 739.99,785.33 741.09,785.56 742.19,785.79 743.3,786.02 744.4,786.24 745.5,786.46 746.6,786.68"/>
<polyline fill="none" stroke="#00ff00" stroke-width="4.5" stroke-linejoin="round" stroke-linecap="butt" points="393.5,550.1 397.7,557.39 398.79,558.7 399.89,560 400.98,561.32 402.07,562.64 403.17,563.96 404.26,565.29 405.36,566.62 406.45,567.96 407.54,569.3 408.64,570.64 409.73,571.98 410.82,573.33 411.92,574.68 413.01,576.03 414.11,577.38 415.2,578.73 416.29,580.08 417.39,581.44 418.48,582.79 419.57,584.14 420.67,585.48 421.76,586.83 422.86,588.17 423.95,589.51 425.04,590.85 426.14,592.19 427.23,593.52 428.32,594.84 429.42,596.16 430.51,597.48 431.61,598.79 432.7,600.09 433.79,601.39 434.89,602.68 435.98,603.96 437.07,605.24 438.17,606.51 439.26,607.77 440.36,609.02 441.45,610.26 442.54,611.5 443.64,612.73 444.73,613.95 445.82,615.16 446.92,616.36 448.01,617.56 449.11,618.75 450.2,619.93 451.29,621.1 452.39,622.27 453.48,623.43 454.57,624.58 455.67,625.73 456.76,626.86 457.86,627.99 458.95,629.12 460.04,630.23 461.14,631.34 462.23,632.45 463.32,633.54 464.42,634.63 465.51,635.72 466.61,636.79 467.7,637.86 468.79,638.92 469.89,639.98 470.98,641.03 472.07,642.08 473.17,643.12 474.26,644.15 475.35,645.17 476.45,646.19 477.54,647.21 478.64,648.22 479.73,649.22 480.82,650.21 481.92,651.2 483.01,652.19 484.1,653.17 485.2,654.14 486.29,655.11 487.39,656.07 488.48,657.02 489.57,657.97 490.67,658.92 491.76,659.86 492.85,660.79 493.95,661.72 495.04,662.64 496.14,663.56 497.23,664.47 498.32,665.38 499.42,666.28 500.51,667.18 501.6,668.07 502.7,668.95 503.79,669.84 504.89,670.71 505.98,671.58 507.07,672.45 508.17,673.31 509.26,674.16 510.35,675.01 511.45,675.86 512.54,676.7 513.64,677.54 514.73,678.37 515.82,679.19 516.92,680.02 518.01,680.83 519.1,681.65 520.2,682.45 521.29,683.26 522.39,684.06 523.48,684.85 524.57,685.64 525.67,686.43 526.76,687.21 527.85,687.98 528.95,688.76 530.04,689.53 531.14,690.29 532.23,691.05 533.32,691.8 534.42,692.56 535.51,693.3 536.6,694.05 537.7,694.79 538.79,695.52 539.88,696.25 540.98,696.98 542.07,697.7 543.17,698.42 544.26,699.14 545.35,699.85 546.45,700.56 547.54,701.27 548.63,701.97 549.73,702.66 550.82,703.36 551.92,704.05 553.01,704.74 554.1,705.42 555.2,706.1 556.29,706.78 557.38,707.45 558.48,708.12 559.57,708.79 560.67,709.45 561.76,710.11 562.85,710.77 563.95,711.42 565.04,712.07 566.13,712.71 567.23,713.36 568.32,714 569.42,714.63 570.51,715.27 571.6,715.9 572.7,716.52 573.79,717.15 574.88,717.77 575.98,718.38 577.07,719 578.17,719.61 579.26,720.21 580.35,720.82 581.45,721.42 582.54,722.01 583.63,722.61 584.73,723.2 585.82,723.79 586.92,724.37 588.01,724.95 589.1,725.53 590.2,726.11 591.29,726.68 592.38,727.25 593.48,727.81 594.57,728.37 595.67,728.93 596.76,729.49 597.85,730.04 598.95,730.59 600.04,731.14 601.13,731.68 602.23,732.22 603.32,732.76 604.42,733.3 605.51,733.83 606.6,734.35 607.7,734.88 608.79,735.4 609.88,735.92 610.98,736.44 612.07,736.95 613.16,737.46 614.26,737.97 615.35,738.47 616.45,738.97 617.54,739.47 618.63,739.97 619.73,740.46 620.82,740.95 621.91,741.43 623.01,741.92 624.1,742.4 625.2,742.87 626.29,743.35 627.38,743.82 628.48,744.29 629.57,744.75 630.66,745.22 631.76,745.68 632.85,746.13 633.95,746.59 635.04,747.04 636.13,747.49 637.23,747.93 638.32,748.38 639.41,748.82 640.51,749.25 641.6,749.69 642.7,750.12 643.79,750.55 644.88,750.97 645.98,751.4 647.07,751.82 648.16,752.23 649.26,752.65 650.35,753.06 651.45,753.47 652.54,753.88 653.63,754.28 654.73,754.68 655.82,755.08 656.91,755.47 658.01,755.87 659.1,756.26 660.2,756.64 661.29,757.03 662.38,757.41 663.48,757.79 664.57,758.17 665.66,758.54 666.76,758.91 667.85,759.28 668.95,759.65 670.04,760.01 671.13,760.37 672.23,760.73 673.32,761.08 674.41,761.44 675.51,761.79 676.6,762.13 677.69,762.48 678.79,762.82 679.88,763.16 680.98,763.5 682.07,763.83 683.16,764.17 684.26,764.5 685.35,764.82 686.44,765.15 687.54,765.47 688.63,765.79 689.73,766.11 690.82,766.42 691.91,766.73 693.01,767.04 694.1,767.35 695.19,767.65 696.29,767.96 697.38,768.26 698.48,768.55 699.57,768.85 700.66,769.14 701.76,769.43 702.85,769.72 703.94,770 705.04,770.29 706.13,770.57 707.23,770.85 708.32,771.12 709.41,771.39 710.51,771.67 711.6,771.93 712.69,772.2 713.79,772.46 714.88,772.73 715.98,772.98 717.07,773.24 718.16,773.5 719.26,773.75 720.35,774 721.44,774.25 722.54,774.49 723.63,774.73 724.73,774.98 725.82,775.21 726.91,775.45 728.01,775.68 729.1,775.92 730.19,776.15 731.29,776.37 732.38,776.6 733.48,776.82 734.57,777.04 735.66,777.26 736.76,777.48 737.85,777.69 738.94,777.9 740.04,778.11 741.13,778.32 742.23,778.53 743.32,778.73 744.41,778.93 745.51,779.13 746.6,779.33"/>
<polyline fill="none" stroke="#ff0000" stroke-width="4.5" stroke-linejoin="round" stroke-linecap="butt" points="397.8,550.1 402.7,557.69 403.78,559.11 404.86,560.52 405.93,561.93 407.01,563.32 408.09,564.7 409.17,566.08 410.25,567.44 411.32,568.79 412.4,570.14 413.48,571.47 414.56,572.8 415.64,574.12 416.71,575.42 417.79,576.72 418.87,578.01 419.95,579.29 421.03,580.57 422.11,581.83 423.18,583.09 424.26,584.33 425.34,585.57 426.42,586.8 427.5,588.02 428.57,589.24 429.65,590.44 430.73,591.64 431.81,592.83 432.89,594.02 433.96,595.19 435.04,596.36 436.12,597.52 437.2,598.68 438.28,599.82 439.35,600.96 440.43,602.09 441.51,603.22 442.59,604.34 443.67,605.45 444.74,606.56 445.82,607.66 446.9,608.75 447.98,609.84 449.06,610.92 450.13,611.99 451.21,613.06 452.29,614.12 453.37,615.18 454.45,616.23 455.52,617.27 456.6,618.31 457.68,619.34 458.76,620.37 459.84,621.39 460.92,622.41 461.99,623.42 463.07,624.43 464.15,625.43 465.23,626.43 466.31,627.42 467.38,628.4 468.46,629.39 469.54,630.36 470.62,631.34 471.7,632.31 472.77,633.27 473.85,634.23 474.93,635.18 476.01,636.14 477.09,637.08 478.16,638.03 479.24,638.96 480.32,639.9 481.4,640.83 482.48,641.75 483.55,642.68 484.63,643.59 485.71,644.51 486.79,645.41 487.87,646.32 488.94,647.22 490.02,648.12 491.1,649.01 492.18,649.9 493.26,650.78 494.33,651.66 495.41,652.54 496.49,653.41 497.57,654.28 498.65,655.14 499.73,656 500.8,656.86 501.88,657.71 502.96,658.55 504.04,659.4 505.12,660.24 506.19,661.07 507.27,661.9 508.35,662.73 509.43,663.55 510.51,664.37 511.58,665.19 512.66,666 513.74,666.81 514.82,667.61 515.9,668.41 516.97,669.2 518.05,670 519.13,670.78 520.21,671.57 521.29,672.35 522.36,673.12 523.44,673.89 524.52,674.66 525.6,675.43 526.68,676.19 527.75,676.94 528.83,677.69 529.91,678.44 530.99,679.19 532.07,679.93 533.14,680.67 534.22,681.4 535.3,682.13 536.38,682.85 537.46,683.58 538.54,684.29 539.61,685.01 540.69,685.72 541.77,686.43 542.85,687.13 543.93,687.83 545,688.52 546.08,689.22 547.16,689.9 548.24,690.59 549.32,691.27 550.39,691.95 551.47,692.62 552.55,693.29 553.63,693.95 554.71,694.62 555.78,695.28 556.86,695.93 557.94,696.58 559.02,697.23 560.1,697.87 561.17,698.51 562.25,699.15 563.33,699.78 564.41,700.41 565.49,701.04 566.56,701.66 567.64,702.28 568.72,702.9 569.8,703.51 570.88,704.12 571.95,704.72 573.03,705.33 574.11,705.92 575.19,706.52 576.27,707.11 577.35,707.7 578.42,708.28 579.5,708.87 580.58,709.44 581.66,710.02 582.74,710.59 583.81,711.16 584.89,711.72 585.97,712.29 587.05,712.84 588.13,713.4 589.2,713.95 590.28,714.5 591.36,715.04 592.44,715.59 593.52,716.13 594.59,716.66 595.67,717.19 596.75,717.72 597.83,718.25 598.91,718.77 599.98,719.29 601.06,719.81 602.14,720.33 603.22,720.84 604.3,721.34 605.37,721.85 606.45,722.35 607.53,722.85 608.61,723.35 609.69,723.84 610.76,724.33 611.84,724.82 612.92,725.3 614,725.78 615.08,726.26 616.16,726.73 617.23,727.21 618.31,727.68 619.39,728.14 620.47,728.61 621.55,729.07 622.62,729.53 623.7,729.98 624.78,730.43 625.86,730.88 626.94,731.33 628.01,731.78 629.09,732.22 630.17,732.66 631.25,733.09 632.33,733.53 633.4,733.96 634.48,734.39 635.56,734.81 636.64,735.23 637.72,735.65 638.79,736.07 639.87,736.49 640.95,736.9 642.03,737.31 643.11,737.72 644.18,738.12 645.26,738.52 646.34,738.92 647.42,739.32 648.5,739.72 649.57,740.11 650.65,740.5 651.73,740.88 652.81,741.27 653.89,741.65 654.97,742.03 656.04,742.41 657.12,742.79 658.2,743.16 659.28,743.53 660.36,743.9 661.43,744.26 662.51,744.63 663.59,744.99 664.67,745.35 665.75,745.7 666.82,746.06 667.9,746.41 668.98,746.76 670.06,747.11 671.14,747.45 672.21,747.8 673.29,748.14 674.37,748.48 675.45,748.82 676.53,749.15 677.6,749.48 678.68,749.81 679.76,750.14 680.84,750.47 681.92,750.79 682.99,751.12 684.07,751.44 685.15,751.75 686.23,752.07 687.31,752.38 688.38,752.7 689.46,753.01 690.54,753.32 691.62,753.62 692.7,753.93 693.78,754.23 694.85,754.53 695.93,754.83 697.01,755.13 698.09,755.42 699.17,755.71 700.24,756.01 701.32,756.29 702.4,756.58 703.48,756.87 704.56,757.15 705.63,757.44 706.71,757.72 707.79,757.99 708.87,758.27 709.95,758.55 711.02,758.82 712.1,759.09 713.18,759.36 714.26,759.63 715.34,759.9 716.41,760.17 717.49,760.43 718.57,760.69 719.65,760.95 720.73,761.21 721.8,761.47 722.88,761.72 723.96,761.98 725.04,762.23 726.12,762.48 727.19,762.73 728.27,762.98 729.35,763.23 730.43,763.47 731.51,763.72 732.59,763.96 733.66,764.2 734.74,764.44 735.82,764.68 736.9,764.92 737.98,765.15 739.05,765.39 740.13,765.62 741.21,765.85 742.29,766.08 743.37,766.31 744.44,766.54 745.52,766.77 746.6,766.99"/>
<polyline fill="none" stroke="#00ffff" stroke-width="4.5" stroke-linejoin="round" stroke-linecap="butt" points="404,550.1 410.05,557.14 411.11,558.26 412.16,559.39 413.22,560.51 414.27,561.63 415.33,562.75 416.38,563.87 417.44,564.99 418.49,566.1 419.55,567.22 420.6,568.33 421.66,569.44 422.71,570.55 423.77,571.66 424.82,572.76 425.88,573.87 426.93,574.97 427.99,576.06 429.04,577.16 430.1,578.26 431.15,579.35 432.21,580.44 433.26,581.52 434.32,582.61 435.37,583.69 436.43,584.77 437.48,585.84 438.54,586.92 439.59,587.99 440.65,589.05 441.7,590.12 442.76,591.18 443.81,592.24 444.87,593.29 445.92,594.34 446.98,595.39 448.03,596.44 449.09,597.48 450.14,598.51 451.2,599.55 452.25,600.58 453.31,601.6 454.36,602.62 455.42,603.64 456.47,604.66 457.53,605.67 458.58,606.67 459.64,607.67 460.69,608.67 461.75,609.66 462.8,610.65 463.86,611.64 464.91,612.61 465.97,613.59 467.02,614.56 468.08,615.53 469.13,616.49 470.19,617.44 471.24,618.4 472.3,619.34 473.35,620.29 474.41,621.23 475.46,622.16 476.52,623.09 477.57,624.01 478.63,624.93 479.68,625.85 480.74,626.76 481.79,627.66 482.85,628.56 483.9,629.46 484.96,630.35 486.01,631.24 487.07,632.12 488.12,633 489.18,633.87 490.23,634.74 491.29,635.6 492.34,636.46 493.4,637.31 494.45,638.16 495.51,639 496.56,639.84 497.62,640.67 498.67,641.5 499.73,642.32 500.78,643.14 501.84,643.95 502.89,644.76 503.95,645.56 505,646.36 506.06,647.16 507.11,647.94 508.17,648.73 509.22,649.51 510.28,650.28 511.33,651.05 512.39,651.82 513.44,652.58 514.5,653.34 515.55,654.09 516.61,654.84 517.66,655.58 518.72,656.32 519.77,657.06 520.83,657.79 521.88,658.52 522.94,659.24 523.99,659.96 525.05,660.67 526.1,661.38 527.16,662.08 528.21,662.78 529.27,663.48 530.32,664.17 531.38,664.86 532.43,665.55 533.49,666.23 534.54,666.91 535.6,667.58 536.65,668.25 537.71,668.91 538.76,669.58 539.82,670.23 540.87,670.89 541.93,671.54 542.98,672.19 544.04,672.83 545.09,673.47 546.15,674.1 547.2,674.74 548.26,675.36 549.31,675.99 550.37,676.61 551.42,677.23 552.48,677.84 553.53,678.45 554.59,679.06 555.64,679.67 556.7,680.27 557.75,680.87 558.81,681.46 559.86,682.05 560.92,682.64 561.97,683.23 563.03,683.81 564.08,684.39 565.14,684.96 566.19,685.54 567.25,686.1 568.3,686.67 569.36,687.23 570.41,687.79 571.47,688.35 572.52,688.9 573.58,689.46 574.63,690 575.69,690.55 576.74,691.09 577.8,691.63 578.85,692.16 579.91,692.7 580.96,693.23 582.02,693.75 583.07,694.27 584.13,694.8 585.18,695.31 586.24,695.83 587.29,696.34 588.35,696.85 589.4,697.35 590.46,697.85 591.51,698.35 592.57,698.85 593.62,699.34 594.68,699.84 595.73,700.32 596.79,700.81 597.84,701.29 598.9,701.77 599.95,702.25 601.01,702.72 602.06,703.19 603.12,703.66 604.17,704.12 605.23,704.58 606.28,705.04 607.34,705.5 608.39,705.95 609.45,706.4 610.5,706.85 611.56,707.3 612.61,707.74 613.67,708.18 614.72,708.62 615.78,709.05 616.83,709.48 617.89,709.91 618.94,710.34 620,710.76 621.05,711.18 622.11,711.6 623.16,712.01 624.22,712.43 625.27,712.84 626.33,713.24 627.38,713.65 628.44,714.05 629.49,714.45 630.55,714.85 631.6,715.24 632.66,715.63 633.71,716.02 634.77,716.41 635.82,716.79 636.88,717.17 637.93,717.55 638.99,717.92 640.04,718.3 641.1,718.67 642.15,719.04 643.21,719.4 644.26,719.77 645.32,720.13 646.37,720.48 647.43,720.84 648.48,721.19 649.54,721.54 650.59,721.89 651.65,722.24 652.7,722.58 653.76,722.92 654.81,723.26 655.87,723.6 656.92,723.93 657.98,724.26 659.03,724.59 660.09,724.92 661.14,725.24 662.2,725.56 663.25,725.88 664.31,726.2 665.36,726.51 666.42,726.82 667.47,727.13 668.53,727.44 669.58,727.75 670.64,728.05 671.69,728.35 672.75,728.65 673.8,728.94 674.86,729.24 675.91,729.53 676.97,729.82 678.02,730.11 679.08,730.39 680.13,730.67 681.19,730.95 682.24,731.23 683.3,731.51 684.35,731.78 685.41,732.05 686.46,732.32 687.52,732.59 688.57,732.85 689.63,733.12 690.68,733.38 691.74,733.63 692.79,733.89 693.85,734.14 694.9,734.4 695.96,734.65 697.01,734.89 698.07,735.14 699.12,735.38 700.18,735.63 701.23,735.87 702.29,736.1 703.34,736.34 704.4,736.57 705.45,736.8 706.51,737.03 707.56,737.26 708.62,737.49 709.67,737.71 710.73,737.93 711.78,738.15 712.84,738.37 713.89,738.58 714.95,738.8 716,739.01 717.06,739.22 718.11,739.42 719.17,739.63 720.22,739.83 721.28,740.04 722.33,740.24 723.39,740.43 724.44,740.63 725.5,740.82 726.55,741.02 727.61,741.21 728.66,741.4 729.72,741.58 730.77,741.77 731.83,741.95 732.88,742.13 733.94,742.31 734.99,742.49 736.05,742.67 737.1,742.84 738.16,743.01 739.21,743.19 740.27,743.35 741.32,743.52 742.38,743.69 743.43,743.85 744.49,744.01 745.54,744.17 746.6,744.33"/>
<polyline fill="none" stroke="#000000" stroke-width="4.5" stroke-linejoin="round" stroke-linecap="butt" points="319.8,550.1 322.63,550.1 325.45,550.1 328.28,550.1 331.1,550.1 333.93,550.1 336.75,550.1 339.58,550.1 342.41,550.1 345.23,550.1 348.06,550.1 350.88,550.1 353.71,550.1 356.53,550.1 359.36,550.1 362.18,550.1 365.01,550.1 367.84,550.1 370.66,550.1 373.49,550.1 376.31,550.1 379.14,550.1 381.96,550.1 384.79,550.1 387.62,550.1 390.44,550.1 393.27,550.1 396.09,550.1 398.92,550.1 401.74,550.1 404.57,550.1 407.39,550.1 410.22,550.1 413.05,550.1 415.87,550.15 418.7,551.08 421.52,552.79 424.35,554.89 427.17,556.88 430,558.86 430.99,559.52 431.98,560.2 432.98,560.88 433.97,561.58 434.96,562.29 435.95,563.01 436.95,563.74 437.94,564.48 438.93,565.22 439.92,565.98 440.92,566.75 441.91,567.53 442.9,568.31 443.89,569.11 444.89,569.91 445.88,570.72 446.87,571.54 447.86,572.37 448.86,573.2 449.85,574.04 450.84,574.89 451.83,575.75 452.83,576.61 453.82,577.48 454.81,578.36 455.8,579.24 456.8,580.12 457.79,581.01 458.78,581.91 459.77,582.81 460.77,583.72 461.76,584.63 462.75,585.55 463.74,586.46 464.74,587.39 465.73,588.31 466.72,589.24 467.71,590.18 468.71,591.11 469.7,592.05 470.69,592.99 471.68,593.93 472.68,594.86 473.67,595.79 474.66,596.72 475.65,597.62 476.65,598.52 477.64,599.39 478.63,600.25 479.62,601.08 480.62,601.9 481.61,602.7 482.6,603.47 483.59,604.23 484.59,604.96 485.58,605.67 486.57,606.37 487.56,607.05 488.56,607.71 489.55,608.36 490.54,609 491.53,609.63 492.53,610.25 493.52,610.87 494.51,611.5 495.5,612.12 496.5,612.75 497.49,613.38 498.48,614.02 499.47,614.67 500.47,615.32 501.46,615.97 502.45,616.63 503.44,617.29 504.44,617.96 505.43,618.62 506.42,619.28 507.41,619.94 508.41,620.6 509.4,621.25 510.39,621.9 511.38,622.55 512.38,623.18 513.37,623.82 514.36,624.44 515.35,625.05 516.35,625.66 517.34,626.25 518.33,626.83 519.32,627.4 520.32,627.95 521.31,628.49 522.3,629.02 523.29,629.53 524.29,630.04 525.28,630.54 526.27,631.03 527.26,631.51 528.26,631.99 529.25,632.48 530.24,632.96 531.23,633.44 532.23,633.92 533.22,634.41 534.21,634.91 535.2,635.4 536.19,635.9 537.19,636.41 538.18,636.91 539.17,637.42 540.16,637.93 541.16,638.45 542.15,638.96 543.14,639.48 544.13,640 545.13,640.51 546.12,641.03 547.11,641.55 548.1,642.07 549.1,642.59 550.09,643.1 551.08,643.62 552.07,644.14 553.07,644.65 554.06,645.16 555.05,645.67 556.04,646.18 557.04,646.68 558.03,647.18 559.02,647.68 560.01,648.17 561.01,648.66 562,649.15 562.99,649.63 563.98,650.11 564.98,650.58 565.97,651.05 566.96,651.52 567.95,651.98 568.95,652.44 569.94,652.9 570.93,653.35 571.92,653.8 572.92,654.24 573.91,654.68 574.9,655.12 575.89,655.55 576.89,655.98 577.88,656.41 578.87,656.83 579.86,657.25 580.86,657.66 581.85,658.07 582.84,658.48 583.83,658.89 584.83,659.29 585.82,659.69 586.81,660.08 587.8,660.47 588.8,660.86 589.79,661.24 590.78,661.63 591.77,662 592.77,662.38 593.76,662.75 594.75,663.12 595.74,663.48 596.74,663.84 597.73,664.2 598.72,664.56 599.71,664.91 600.71,665.26 601.7,665.61 602.69,665.95 603.68,666.29 604.68,666.63 605.67,666.96 606.66,667.29 607.65,667.62 608.65,667.95 609.64,668.27 610.63,668.59 611.62,668.91 612.62,669.22 613.61,669.53 614.6,669.84 615.59,670.15 616.59,670.45 617.58,670.75 618.57,671.05 619.56,671.34 620.56,671.64 621.55,671.93 622.54,672.21 623.53,672.5 624.53,672.78 625.52,673.06 626.51,673.34 627.5,673.61 628.5,673.88 629.49,674.15 630.48,674.42 631.47,674.69 632.47,674.95 633.46,675.21 634.45,675.47 635.44,675.72 636.44,675.98 637.43,676.23 638.42,676.48 639.41,676.72 640.41,676.97 641.4,677.21 642.39,677.45 643.38,677.69 644.37,677.92 645.37,678.16 646.36,678.39 647.35,678.62 648.34,678.84 649.34,679.07 650.33,679.29 651.32,679.51 652.31,679.73 653.31,679.95 654.3,680.16 655.29,680.38 656.28,680.59 657.28,680.8 658.27,681 659.26,681.21 660.25,681.41 661.25,681.61 662.24,681.81 663.23,682 664.22,682.2 665.22,682.39 666.21,682.58 667.2,682.77 668.19,682.95 669.19,683.14 670.18,683.32 671.17,683.5 672.16,683.68 673.16,683.85 674.15,684.03 675.14,684.2 676.13,684.37 677.13,684.53 678.12,684.7 679.11,684.86 680.1,685.03 681.1,685.18 682.09,685.34 683.08,685.5 684.07,685.65 685.07,685.8 686.06,685.95 687.05,686.1 688.04,686.25 689.04,686.39 690.03,686.53 691.02,686.67 692.01,686.81 693.01,686.94 694,687.08 694.99,687.21 695.98,687.34 696.98,687.47 697.97,687.59 698.96,687.72 699.95,687.84 700.95,687.96 701.94,688.08 702.93,688.2 703.92,688.31 704.92,688.42 705.91,688.53 706.9,688.64 707.89,688.75 708.89,688.85 709.88,688.96 710.87,689.06 711.86,689.16 712.86,689.25 713.85,689.35 714.84,689.44 715.83,689.53 716.83,689.62 717.82,689.71 718.81,689.8 719.8,689.88 720.8,689.96 721.79,690.04 722.78,690.12 723.77,690.2 724.77,690.27 725.76,690.35 726.75,690.42 727.74,690.49 728.74,690.56 729.73,690.62 730.72,690.68 731.71,690.75 732.71,690.81 733.7,690.87 734.69,690.92 735.68,690.98 736.68,691.03 737.67,691.08 738.66,691.13 739.65,691.18 740.65,691.22 741.64,691.27 742.63,691.31 743.62,691.35 744.62,691.39 745.61,691.42 746.6,691.46"/>
</g>
<line x1="526.9" y1="517.1" x2="566.5" y2="517.1" stroke="#0000ff" stroke-width="4.5"/>
<text x="570.5" y="521.9" font-family="'Liberation Sans', sans-serif" font-size="12.8" font-weight="normal" text-anchor="start" fill="#000" stroke="#000" stroke-width="0.35">Drug concentration = 0 nM</text>
<line x1="526.9" y1="535.8" x2="566.5" y2="535.8" stroke="#00ff00" stroke-width="4.5"/>
<text x="570.5" y="540.6" font-family="'Liberation Sans', sans-serif" font-size="12.8" font-weight="normal" text-anchor="start" fill="#000" stroke="#000" stroke-width="0.35">Drug concentration = 60 nM</text>
<line x1="526.9" y1="554.3" x2="566.5" y2="554.3" stroke="#ff0000" stroke-width="4.5"/>
<text x="570.5" y="559.1" font-family="'Liberation Sans', sans-serif" font-size="12.8" font-weight="normal" text-anchor="start" fill="#000" stroke="#000" stroke-width="0.35">Drug concentration = 120 nM</text>
<line x1="526.9" y1="572.2" x2="566.5" y2="572.2" stroke="#00ffff" stroke-width="4.5"/>
<text x="570.5" y="577" font-family="'Liberation Sans', sans-serif" font-size="12.8" font-weight="normal" text-anchor="start" fill="#000" stroke="#000" stroke-width="0.35">Drug concentration = 180 nM</text>
<line x1="526.9" y1="591.1" x2="566.5" y2="591.1" stroke="#000000" stroke-width="4.5"/>
<text x="570.5" y="595.9" font-family="'Liberation Sans', sans-serif" font-size="12.8" font-weight="normal" text-anchor="start" fill="#000" stroke="#000" stroke-width="0.35">Drug concentration = 240 nM</text>
<text transform="translate(279.8 670) rotate(-90) scale(1 1)" font-family="'Liberation Sans', sans-serif" font-size="23.53" text-anchor="middle" fill="#000" stroke="#000" stroke-width="0.06">Accumulation rate of Albumin (nM/s)</text>
<text transform="translate(531.7 873.8) scale(1 1.02)" font-family="'Liberation Sans', sans-serif" font-size="23.7" text-anchor="middle" fill="#000" stroke="#000" stroke-width="0.06">Time (day)</text>
<text x="235" y="460.6" font-family="'Liberation Serif', serif" font-size="31" text-anchor="middle" fill="#000">(<tspan font-weight="bold">A</tspan>)</text>
<text x="770.9" y="460.6" font-family="'Liberation Serif', serif" font-size="31.2" text-anchor="middle" fill="#000">(<tspan font-weight="bold">B</tspan>)</text>
<text x="504.3" y="921" font-family="'Liberation Serif', serif" font-size="32" text-anchor="middle" fill="#000">(<tspan font-weight="bold">C</tspan>)</text>
</svg>
</body>
</html>
